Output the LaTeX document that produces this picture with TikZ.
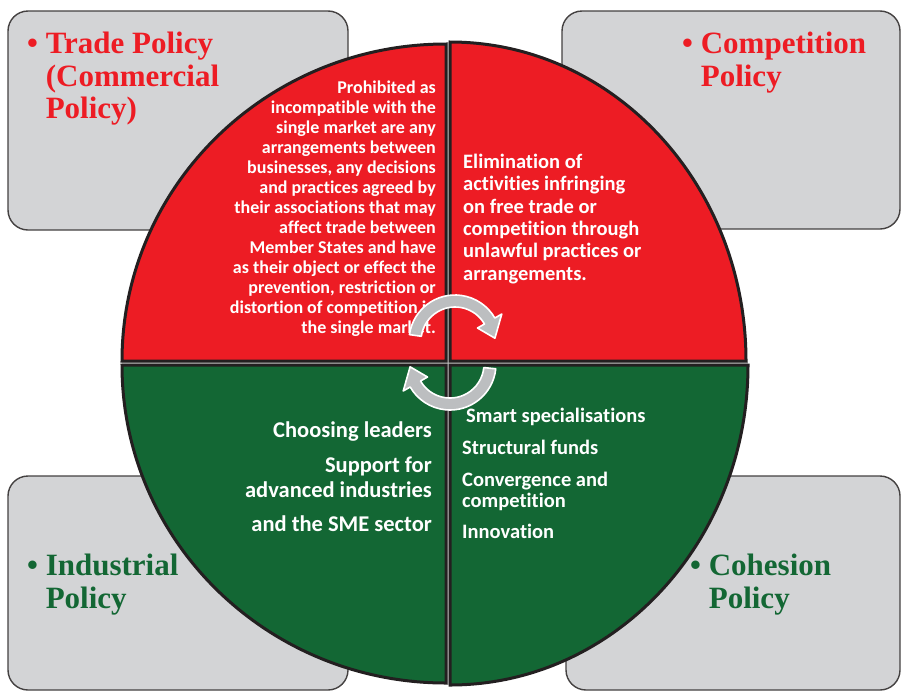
\documentclass[tikz,border=0pt]{standalone}
\usepackage{fontspec}
\setmainfont{Liberation Serif}
\newfontfamily\bodyfont{Carlito}[Ligatures=NoCommon]
\usetikzlibrary{positioning}
\definecolor{polred}{HTML}{ED1C24}
\definecolor{polgreen}{HTML}{136734}
\definecolor{boxgray}{HTML}{D3D4D6}
\definecolor{arrowgray}{HTML}{BCBEC0}
\definecolor{rim}{HTML}{231F20}
\newcommand{\bulletgap}{\hphantom{\textbullet\ }}

\begin{document}
\begin{tikzpicture}[x=1pt, y=-1pt,
    policybox/.style={draw=rim!85, line width=1.4pt, fill=boxgray, rounded corners=20pt},
    quarter/.style={draw=rim, line width=3pt, line join=miter},
    title/.style={font=\bfseries\fontsize{31}{32.5}\selectfont, align=left,
        anchor=north west, inner sep=0pt},
    body/.style={text=white, inner sep=0pt},
    turn/.style={fill=arrowgray, draw=white, line width=1.6pt, line join=round}]

    \useasboundingbox (0,0) rectangle (901,691);

    % grey policy boxes
    \draw[policybox] (8,11) rectangle (348,230);
    \draw[policybox] (562,11) rectangle (900,229);
    \draw[policybox] (8,476) rectangle (348,690);
    \draw[policybox] (566,476) rectangle (900,690);

    % gaps between the quarters
    \draw[gray!45, line width=1.2pt] (122,363) -- (748,363);
    \draw[gray!45, line width=1.2pt] (448,42) -- (448,685);

    % the four quarters
    \draw[quarter, fill=polred] (446,361) -- (122,361)
        arc[start angle=180, end angle=270, x radius=324, y radius=317] -- cycle;
    \draw[quarter, fill=polred] (450,361) -- (450,42)
        arc[start angle=270, end angle=360, x radius=296, y radius=319] -- cycle;
    \draw[quarter, fill=polgreen] (450,365) -- (748,365)
        arc[start angle=0, end angle=90, x radius=298, y radius=320] -- cycle;
    \draw[quarter, fill=polgreen] (446,365) -- (446,683)
        arc[start angle=90, end angle=180, x radius=324, y radius=318] -- cycle;

    % policy names
    \node[title, text=polred] (trade) at (27,32)
        {\textbullet\ Trade Policy\\\bulletgap(Commercial\\\bulletgap Policy)};
    \node[title, text=polred] (competition) at (682,32)
        {\textbullet\ Competition\\\bulletgap Policy};
    \node[title, text=polgreen] (industrial) at (27,554)
        {\textbullet\ Industrial\\\bulletgap Policy};
    \node[title, text=polgreen] (cohesion) at (690,554)
        {\textbullet\ Cohesion\\\bulletgap Policy};

    % texts in the quarters
    \node[body, align=right, anchor=north east,
        font=\bodyfont\bfseries\fontsize{18}{20}\selectfont] (tradetext) at (436,81)
        {Prohibited as\\incompatible with the\\single market are any\\
         arrangements between\\businesses, any decisions\\and practices agreed by\\
         their associations that may\\affect trade between\\Member States and have\\
         as their object or effect the\\prevention, restriction or\\
         distortion of competition in\\the single market.};
    \node[body, align=left, anchor=north west,
        font=\bodyfont\bfseries\fontsize{20.5}{22.3}\selectfont] (competitiontext) at (463,154)
        {Elimination of\\activities infringing\\on free trade or\\competition through\\
         unlawful practices or\\arrangements.};
    \node[body, align=right, anchor=north east,
        font=\bodyfont\bfseries\fontsize{22.5}{25}\selectfont] (industrialtext) at (432,422)
        {Choosing leaders\\[10pt]Support for\\advanced industries\\[9pt]and the SME sector};
    \node[body, align=left, anchor=north west,
        font=\bodyfont\bfseries\fontsize{20.5}{21}\selectfont] (cohesiontext) at (462,408)
        {\hspace*{4pt}Smart specialisations\\[11pt]Structural funds\\[11pt]Convergence and\\
         competition\\[10pt]Innovation};

    % turning arrows in the middle
    \begin{scope}[shift={(455,341)}]
        \draw[turn] (188:46) arc[start angle=188, end angle=330, radius=46]
            -- (330:54) -- (356:40) -- (330:26) -- (330:34)
            arc[start angle=330, end angle=188, radius=34] -- cycle;
    \end{scope}
    \begin{scope}[shift={(450,364)}]
        \draw[turn] (6:46) arc[start angle=6, end angle=150, radius=46]
            -- (150:54) -- (176:40) -- (150:26) -- (150:34)
            arc[start angle=150, end angle=6, radius=34] -- cycle;
    \end{scope}
\end{tikzpicture}
\end{document}
